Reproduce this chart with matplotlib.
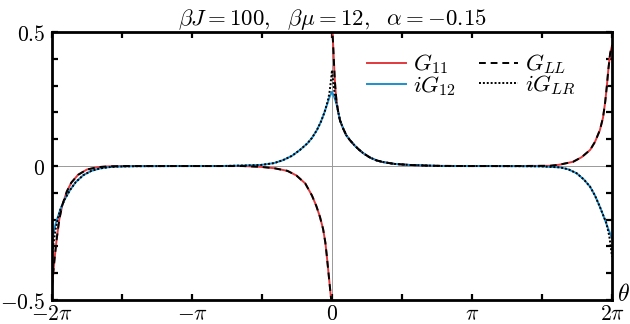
import numpy as np
import matplotlib.pyplot as plt

plt.rcParams['mathtext.fontset'] = 'cm'
plt.rcParams['font.family'] = ['DejaVu Serif']

pi = np.pi

# G11 on (-2pi, 0)
th_g11_l = [-6.283, -6.25, -6.22, -6.18, -6.12, -6.05, -5.95, -5.85, -5.7, -5.5,
            -5.25, -5.0, -4.6, -4.0, -3.0, -2.0, -1.6, -1.3, -1.0, -0.8, -0.6,
            -0.45, -0.35, -0.27, -0.2, -0.15, -0.12, -0.09, -0.06, -0.03, 0.0]
g11_l = [-0.45, -0.39, -0.338, -0.276, -0.2, -0.145, -0.095, -0.062, -0.033, -0.013,
         -0.004, -0.001, 0.0, 0.0, 0.0, 0.0, -0.003, -0.008, -0.018, -0.035, -0.065,
         -0.11, -0.15, -0.19, -0.235, -0.285, -0.33, -0.38, -0.43, -0.48, -0.53]

# G11 on (0, 2pi)
th_g11_r = [0.0, 0.02, 0.04, 0.06, 0.08, 0.1, 0.14, 0.18, 0.25, 0.32, 0.4, 0.5, 0.6,
            0.7, 0.85, 1.0, 1.14, 1.4, 1.75, 2.2, 3.0, 4.0, 4.5, 4.89, 5.1, 5.41,
            5.6, 5.79, 5.9, 6.01, 6.08, 6.13, 6.165, 6.2, 6.24, 6.283]
g11_r = [0.53, 0.47, 0.40, 0.33, 0.28, 0.245, 0.20, 0.17, 0.14, 0.115, 0.097, 0.078,
         0.062, 0.048, 0.032, 0.021, 0.015, 0.008, 0.004, 0.001, 0.0, 0.0, 0.0005,
         0.001, 0.005, 0.016, 0.033, 0.06, 0.09, 0.134, 0.18, 0.24, 0.296, 0.36,
         0.42, 0.45]

# iG12
th_g12 = [-6.283, -6.2, -6.1, -6.0, -5.88, -5.75, -5.58, -5.4, -5.21, -5.0, -4.83,
          -4.4, -3.5, -2.5, -2.0, -1.6, -1.3, -1.1, -0.9, -0.72, -0.55, -0.45, -0.34,
          -0.25, -0.17, -0.1, -0.05, 0.0, 0.05, 0.1, 0.18, 0.25, 0.32, 0.4, 0.5, 0.6,
          0.7, 0.85, 1.0, 1.14, 1.4, 1.75, 2.5, 3.5, 4.2, 4.67, 5.12, 5.3, 5.49, 5.65,
          5.79, 5.9, 6.01, 6.1, 6.2, 6.283]
g12 = [-0.276, -0.215, -0.164, -0.125, -0.09, -0.06, -0.034, -0.018, -0.009, -0.004,
       -0.002, -0.0005, 0.0, 0.0, 0.002, 0.004, 0.011, 0.022, 0.038, 0.06, 0.085,
       0.105, 0.134, 0.165, 0.20, 0.235, 0.26, 0.277, 0.258, 0.232, 0.17, 0.14, 0.115,
       0.097, 0.078, 0.062, 0.048, 0.032, 0.021, 0.015, 0.008, 0.004, 0.0, 0.0,
       -0.0005, -0.001, -0.005, -0.012, -0.027, -0.05, -0.077, -0.11, -0.152, -0.19,
       -0.235, -0.27]

# iGLR
th_glr = [-6.283, -6.25, -6.2, -6.15, -6.1, -6.0, -5.88, -5.75, -5.58, -5.4, -5.21,
          -5.0, -4.83, -4.4, -3.5, -2.5, -2.0, -1.6, -1.3, -1.1, -0.9, -0.72, -0.55,
          -0.45, -0.34, -0.25, -0.17, -0.1, -0.06, -0.03, 0.0, 0.03, 0.06, 0.1, 0.18,
          0.25, 0.32, 0.4, 0.5, 0.6, 0.7, 0.85, 1.0, 1.14, 1.4, 1.75, 2.5, 3.5, 4.2,
          4.67, 5.12, 5.3, 5.49, 5.65, 5.79, 5.9, 6.01, 6.1, 6.15, 6.22, 6.283]
glr = [-0.338, -0.29, -0.235, -0.195, -0.164, -0.125, -0.09, -0.06, -0.034, -0.018,
       -0.009, -0.004, -0.002, -0.0005, 0.0, 0.0, 0.002, 0.004, 0.011, 0.022, 0.038,
       0.06, 0.085, 0.105, 0.134, 0.165, 0.20, 0.24, 0.27, 0.31, 0.358, 0.31, 0.27,
       0.235, 0.17, 0.14, 0.115, 0.097, 0.078, 0.062, 0.048, 0.032, 0.021, 0.015,
       0.008, 0.004, 0.0, 0.0, -0.0005, -0.001, -0.005, -0.012, -0.027, -0.05, -0.077,
       -0.11, -0.152, -0.19, -0.21, -0.26, -0.338]

red = '#e0393e'
blue = '#1b8fcf'

fig = plt.figure(figsize=(6.3, 3.24), dpi=100)
ax = fig.add_axes([0.0825, 0.074, 0.889, 0.827])

ax.axhline(0, color='#999999', lw=0.7, zorder=1)
ax.axvline(0, color='#999999', lw=0.7, zorder=1)

ax.plot(th_g11_l, g11_l, color=red, lw=1.4, zorder=2, label=r'$G_{11}$')
ax.plot(th_g11_r, g11_r, color=red, lw=1.4, zorder=2)
ax.plot(th_g12, g12, color=blue, lw=1.4, zorder=2, label=r'$iG_{12}$')
ax.plot(th_g11_l, g11_l, color='k', lw=1.4, ls=(0, (3.5, 2.5)), zorder=3, label=r'$G_{LL}$')
ax.plot(th_g11_r, g11_r, color='k', lw=1.4, ls=(0, (3.5, 2.5)), zorder=3)
ax.plot(th_glr, glr, color='k', lw=1.4, ls=(0, (1, 1)), zorder=3, label=r'$iG_{LR}$')

ax.set_xlim(-2 * pi, 2 * pi)
ax.set_ylim(-0.5, 0.5)

xt = np.arange(-4, 5) * pi / 2
xl = [r'$-2\pi$', '', r'$-\pi$', '', r'$0$', '', r'$\pi$', '', r'$2\pi$']
ax.set_xticks(xt)
ax.set_xticklabels(xl, fontsize=15.5)
yt = np.round(np.arange(-5, 6) * 0.1, 1)
yl = [r'$-0.5$' if v == -0.5 else r'$0$' if v == 0 else r'$0.5$' if v == 0.5 else '' for v in yt]
ax.set_yticks(yt)
ax.set_yticklabels(yl, fontsize=15.5)
ax.tick_params(direction='in', length=4, width=1.6, top=True, right=True)
ax.tick_params(axis='y', pad=5)
ax.tick_params(axis='x', pad=2)

for s in ax.spines.values():
    s.set_linewidth(2.0)

ax.set_title(r'$\beta J=100,\ \ \beta\mu=12,\ \ \alpha=-0.15$', fontsize=16.5, pad=5)
ax.text(1.008, 0.02, r'$\theta$', transform=ax.transAxes, fontsize=17, ha='left', va='center')

handles, labels = ax.get_legend_handles_labels()
ax.legend(handles, labels, ncol=2, loc='upper right', bbox_to_anchor=(0.96, 0.975),
          frameon=False, fontsize=16.5, handlelength=1.7, handletextpad=0.3,
          columnspacing=1.0, labelspacing=-0.1, borderaxespad=0.2)

fig.savefig('out.png', dpi=100)
